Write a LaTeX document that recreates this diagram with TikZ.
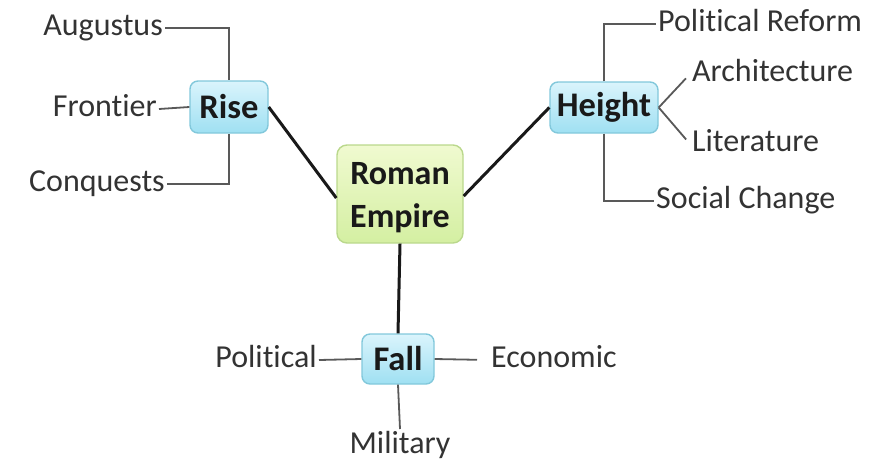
\documentclass[tikz,border=0pt]{standalone}
\usepackage{fontspec}
\setmainfont[Ligatures=NoCommon]{Carlito}
\definecolor{hubtop}{HTML}{DAF4FC}
\definecolor{hubbot}{HTML}{9FE0F2}
\definecolor{hubrim}{HTML}{82C8DB}
\definecolor{coretop}{HTML}{F0FAD0}
\definecolor{corebot}{HTML}{D4EFA2}
\definecolor{corerim}{HTML}{BAD88C}
\begin{document}
\begin{tikzpicture}[x=1pt,y=-1pt,
  hub/.style={draw=hubrim, line width=1.4pt, rounded corners=8pt,
    top color=hubtop, bottom color=hubbot, text=black!90,
    font=\fontsize{34.5}{40}\selectfont\bfseries, inner sep=0pt, align=center},
  core/.style={draw=corerim, line width=1.4pt, rounded corners=10pt,
    top color=coretop, bottom color=corebot, inner sep=0pt},
  coretext/.style={text=black!90, font=\fontsize{34}{43}\selectfont\bfseries,
    inner sep=0pt, align=center},
  leaf/.style={font=\fontsize{32}{36}\selectfont, text=black!80, inner sep=2pt,
    text height=22pt, text depth=7pt},
  trunk/.style={line width=3pt, black!90},
  twig/.style={line width=1.8pt, black!65}]
\useasboundingbox (0,0) rectangle (874,464);

% central topic and its three branches
\node[core, minimum width=126pt, minimum height=98pt] (roman) at (400,194) {};
\node[coretext] (romantext) at ([yshift=-4pt]roman.center) {Roman\\Empire};
\node[hub, minimum width=78pt, minimum height=52pt] (rise) at (229,107) {Rise};
\node[hub, minimum width=108pt, minimum height=51pt] (height) at (604,107.5) {Height};
\node[hub, minimum width=72pt, minimum height=50pt] (fall) at (398,359) {Fall};

% leaves
\node[leaf, anchor=east] (aug) at (165,28) {Augustus};
\node[leaf, anchor=east] (front) at (159,109) {Frontier};
\node[leaf, anchor=east] (conq) at (167,184) {Conquests};
\node[leaf, anchor=west] (pref) at (656,24) {Political Reform};
\node[leaf, anchor=west] (arch) at (690,74) {Architecture};
\node[leaf, anchor=west] (lit) at (690,144) {Literature};
\node[leaf, anchor=west] (social) at (654,201) {Social Change};
\node[leaf, anchor=east] (pol) at (319,360) {Political};
\node[leaf, anchor=west] (econ) at (489,360) {Economic};
\node[leaf, anchor=north] (mil) at (400,429) {Military};

% main branches
\draw[trunk] (rise.east) -- ([yshift=-4pt]roman.west);
\draw[trunk] (height.west) -- ([yshift=-2pt]roman.east);
\draw[trunk] (roman.south) -- (fall.north);

% sub-branches
\draw[twig] (aug.east) -| (rise.north);
\draw[twig] (front.east) -- (rise.west);
\draw[twig] (conq.east) -| (rise.south);
\draw[twig] (height.north) |- (pref.west);
\draw[twig] (height.south) |- (social.west);
\draw[twig, shorten >=6pt] (height.east) -- (arch.west);
\draw[twig, shorten >=6pt] (height.east) -- (lit.west);
\draw[twig] (pol.east) -- (fall.west);
\draw[twig, shorten >=12pt] (fall.east) -- (econ.west);
\draw[twig] (fall.south) -- (mil.north);
\end{tikzpicture}
\end{document}
